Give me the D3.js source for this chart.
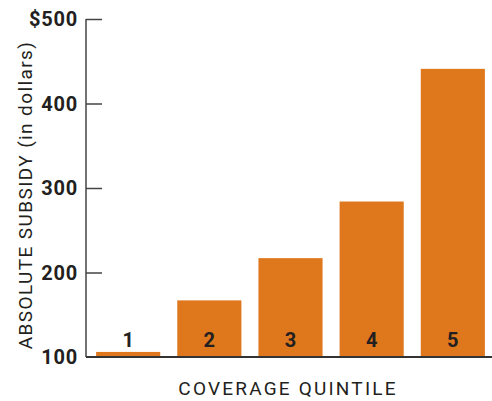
<!DOCTYPE html>
<meta charset="utf-8">
<style>
body { margin: 0; background: #fff; }
.tick-label { font-family: Roboto, sans-serif; font-weight: 700; font-size: 20px; fill: #231f20; letter-spacing: 0.8px; }
.bar-label { font-family: Roboto, sans-serif; font-weight: 700; font-size: 20px; fill: #231f20; }
.axis-title { font-family: Roboto, sans-serif; font-size: 19px; fill: #231f20; letter-spacing: 1.4px; }
.x-title { letter-spacing: 2.2px; }
</style>
<svg width="492" height="401"></svg>
<script src="https://d3js.org/d3.v7.min.js"></script>
<script>

const quintiles = ["1", "2", "3", "4", "5"];
const subsidy = [106, 167, 217, 284, 441];
const yTicks = [100, 200, 300, 400, 500];
const tickLabels = ["100", "200", "300", "400", "$500"];

const ORANGE = "#df771c";
const svg = d3.select("svg");

const x = d3.scaleBand()
    .domain(quintiles)
    .range([88, 493])
    .paddingInner(0.21)
    .paddingOuter(0.1);

const y = d3.scaleLinear()
    .domain([100, 500])
    .range([357, 19]);

// bars
svg.selectAll("rect.bar")
  .data(subsidy)
  .enter().append("rect")
    .attr("class", "bar")
    .attr("x", function(d, i) { return x(quintiles[i]); })
    .attr("y", function(d) { return y(d); })
    .attr("width", x.bandwidth())
    .attr("height", function(d) { return y(100) - y(d); })
    .style("fill", ORANGE);

// quintile numbers
svg.selectAll("text.bar-label")
  .data(quintiles)
  .enter().append("text")
    .attr("class", "bar-label")
    .attr("x", function(d) { return x(d) + x.bandwidth() / 2; })
    .attr("y", y(100) - 10.5)
    .attr("text-anchor", "middle")
    .text(function(d) { return d; });

// y axis
const yAxis = d3.axisRight(y)
    .tickValues(yTicks.slice(1))
    .tickSize(16)
    .tickFormat("");
const gy = svg.append("g")
    .attr("transform", "translate(86,0)")
    .call(yAxis);
gy.select(".domain").remove();
gy.selectAll(".tick line").attr("stroke", "#444").attr("stroke-width", 1.5);

svg.append("line")
    .attr("x1", 86).attr("x2", 86)
    .attr("y1", y(500)).attr("y2", y(100))
    .attr("stroke", "#444").attr("stroke-width", 1.5);

svg.append("line")
    .attr("x1", 86).attr("x2", 492)
    .attr("y1", y(100)).attr("y2", y(100))
    .attr("stroke", "#333").attr("stroke-width", 2);

svg.selectAll("text.tick-label")
  .data(yTicks)
  .enter().append("text")
    .attr("class", "tick-label")
    .attr("x", 78)
    .attr("y", function(d) { return y(d); })
    .attr("dy", "0.36em")
    .attr("text-anchor", "end")
    .text(function(d, i) { return tickLabels[i]; });

// titles
svg.append("text")
    .attr("class", "axis-title")
    .attr("transform", "translate(32,195) rotate(-90)")
    .attr("text-anchor", "middle")
    .text("ABSOLUTE SUBSIDY (in dollars)");

svg.append("text")
    .attr("class", "axis-title x-title")
    .attr("x", 288)
    .attr("y", 395)
    .attr("text-anchor", "middle")
    .text("COVERAGE QUINTILE");

</script>
